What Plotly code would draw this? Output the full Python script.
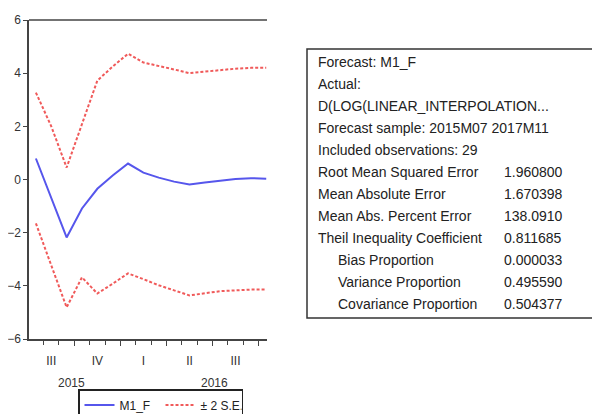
import plotly.graph_objects as go

# ---- data (month index 0 = 2015M07 ... 15 = 2016M10) ----
months = list(range(16))
m1_f = [0.79, -0.70, -2.18, -1.09, -0.35, 0.15, 0.60, 0.26, 0.07, -0.08, -0.19, -0.11, -0.04, 0.02, 0.05, 0.03]
upper = [3.27, 2.00, 0.45, 2.10, 3.72, 4.25, 4.73, 4.40, 4.28, 4.14, 4.00, 4.06, 4.12, 4.17, 4.20, 4.20]
lower = [-1.65, -3.20, -4.81, -3.68, -4.29, -3.92, -3.53, -3.75, -3.98, -4.17, -4.36, -4.28, -4.20, -4.17, -4.14, -4.14]

quarter_pos = [1, 4, 7, 10, 13]
quarter_labels = ["III", "IV", "I", "II", "III"]
major_ticks = [2.5, 5.5, 8.5, 11.5, 14.5]
minor_ticks = [k - 0.5 for k in range(1, 16)]
year_labels = ["2015", "2016"]
year_pos = [2.3, 11.6]

stats_labels = [
    "Forecast: M1_F",
    "Actual:",
    "D(LOG(LINEAR_INTERPOLATION...",
    "Forecast sample: 2015M07 2017M11",
    "Included observations: 29",
    "Root Mean Squared Error",
    "Mean Absolute Error",
    "Mean Abs. Percent Error",
    "Theil Inequality Coefficient",
    "Bias Proportion",
    "Variance Proportion",
    "Covariance Proportion",
]
stats_values = ["", "", "", "", "", "1.960800", "1.670398", "138.0910",
                "0.811685", "0.000033", "0.495590", "0.504377"]
indent = [0, 0, 0, 0, 0, 0, 0, 0, 0, 1, 1, 1]

# ---- layout geometry (page body adds an 8px offset) ----
OFF = 8
W, H = 600 - OFF, 414 - OFF
L, R, T, B = 29 - OFF, 267 - OFF, 20 - OFF, 339 - OFF


def px(x):
    """reference-pixel x -> paper x"""
    return (x - OFF - L) / (R - L)


def py(y):
    """reference-pixel y -> paper y"""
    return (B - (y - OFF)) / (B - T)


FONT = "Liberation Sans, Arial, sans-serif"
BLUE = "#5656EC"
RED = "#F05A5A"

fig = go.Figure()
fig.add_trace(go.Scatter(x=months, y=m1_f, mode="lines", name="M1_F",
                         line=dict(color=BLUE, width=2)))
fig.add_trace(go.Scatter(x=months, y=upper, mode="lines", name="\u00b1 2 S.E.",
                         line=dict(color=RED, width=2, dash="3px,2px")))
fig.add_trace(go.Scatter(x=months, y=lower, mode="lines", name="\u00b1 2 S.E.",
                         showlegend=False,
                         line=dict(color=RED, width=2, dash="3px,2px")))
# invisible trace to carry the longer major ticks on an overlay axis
fig.add_trace(go.Scatter(x=[months[0]], y=[m1_f[0]], xaxis="x2", mode="markers",
                         marker=dict(opacity=0), showlegend=False, hoverinfo="skip"))

xr = [-0.45, 15.05]
fig.update_layout(
    width=W, height=H,
    margin=dict(l=L, r=W - R, t=T, b=H - B, autoexpand=False),
    paper_bgcolor="white", plot_bgcolor="white",
    font=dict(family=FONT, size=12, color="#333333"),
    showlegend=True,
    legend=dict(orientation="h", x=px(78), y=py(389), xanchor="left", yanchor="top",
                bordercolor="#222222", borderwidth=1.5, bgcolor="white",
                font=dict(size=12, color="#222222"), entrywidth=36,
                itemwidth=30, tracegroupgap=0),
    xaxis=dict(range=xr, showgrid=False, zeroline=False, showline=True,
               linecolor="#444444", linewidth=1.5, automargin=False,
               tickmode="array", tickvals=quarter_pos, ticktext=quarter_labels,
               ticks="", ticklen=0, ticklabelstandoff=10,
               tickfont=dict(size=12, color="#333333"),
               minor=dict(tickvals=minor_ticks, ticks="outside", ticklen=4,
                          tickcolor="#444444", tickwidth=1.3, showgrid=False)),
    xaxis2=dict(range=xr, overlaying="x", side="bottom", showgrid=False,
                zeroline=False, showline=False, tickmode="array", automargin=False,
                tickvals=major_ticks, ticktext=[""] * len(major_ticks),
                ticks="outside", ticklen=6, tickcolor="#444444", tickwidth=1.3),
    yaxis=dict(range=[-6, 6], showgrid=False, zeroline=False, showline=True,
               linecolor="#444444", linewidth=1.5, tickmode="array", automargin=False,
               tickvals=[-6, -4, -2, 0, 2, 4, 6], ticks="outside", ticklen=4,
               tickcolor="#444444", tickwidth=1.3,
               tickfont=dict(size=12, color="#333333")),
)

shapes = [
    # top border of plot
    dict(type="line", xref="paper", yref="paper", x0=0, x1=1, y0=1, y1=1,
         line=dict(color="#444444", width=1.5)),
    # statistics box
    dict(type="rect", xref="paper", yref="paper",
         x0=px(307), x1=px(599), y0=py(318), y1=py(49),
         line=dict(color="#333333", width=1.5), fillcolor="white", layer="below"),
]

annotations = []
for lab, xp in zip(year_labels, year_pos):
    annotations.append(dict(x=xp, y=py(383), xref="x", yref="paper", text=lab,
                            showarrow=False, xanchor="center", yanchor="middle",
                            font=dict(size=12, color="#333333")))

y0 = 62
dy = 22.0
for i, (lab, val) in enumerate(zip(stats_labels, stats_values)):
    yy = y0 + i * dy
    xl = 336 if indent[i] else 316
    annotations.append(dict(x=px(xl), y=py(yy), xref="paper", yref="paper",
                            text=lab, showarrow=False, xanchor="left",
                            yanchor="middle",
                            font=dict(size=14, color="#222222")))
    if val:
        annotations.append(dict(x=px(502), y=py(yy), xref="paper", yref="paper",
                                text=val, showarrow=False, xanchor="left",
                                yanchor="middle",
                                font=dict(size=14, color="#222222")))

fig.update_layout(shapes=shapes, annotations=annotations)
fig.write_html("out.html")
